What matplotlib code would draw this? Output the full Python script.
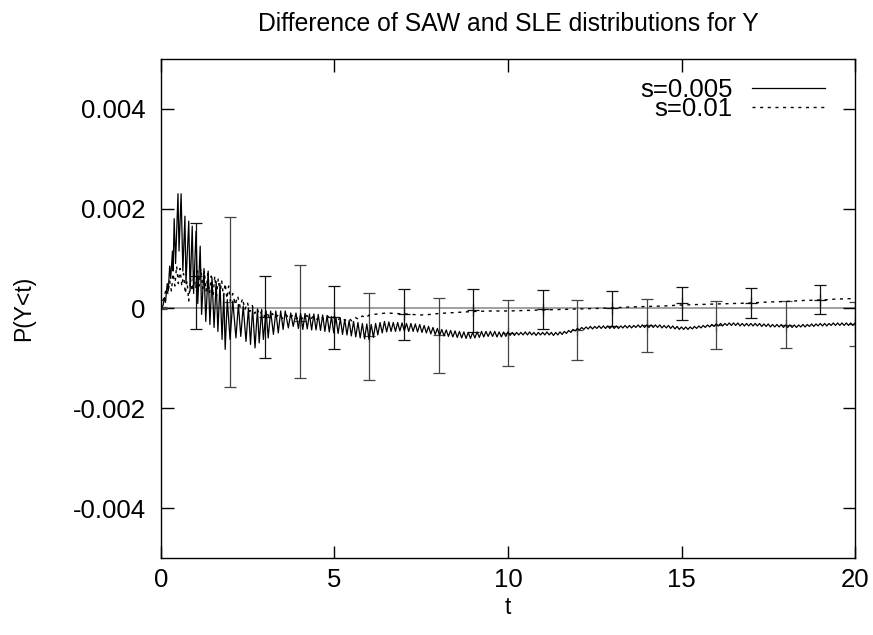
import matplotlib
matplotlib.use("Agg")
import matplotlib.pyplot as plt
import numpy as np

plt.rcParams['font.family'] = ['Liberation Sans', 'DejaVu Sans']
plt.rcParams['font.size'] = 18.5

SCALE = 1e-4  # all values below are in units of 1e-4

# s=0.005, strongly oscillating start: (t, value) vertices
s005_head_t = [0.00, 0.06, 0.10, 0.13, 0.18, 0.21, 0.25, 0.28, 0.33, 0.35,
               0.38, 0.42, 0.49, 0.52, 0.58, 0.63, 0.69, 0.72, 0.80, 0.84,
               0.90, 0.94, 1.01, 1.06, 1.13, 1.17, 1.24, 1.29, 1.36, 1.41,
               1.47, 1.53, 1.59, 1.64, 1.70, 1.76, 1.81, 1.85, 1.91, 1.99,
               2.07, 2.16, 2.23, 2.30, 2.37, 2.45, 2.52, 2.58, 2.64, 2.71,
               2.78, 2.83, 2.90, 2.95, 3.03, 3.09, 3.16, 3.24, 3.31, 3.38,
               3.45, 3.52, 3.58, 3.67, 3.74, 3.81, 3.89]
s005_head_v = [0.0, 0.6, 2.2, 1.2, 5.0, 3.5, 8.5, 6.0, 11.5, 7.5,
               18.0, 9.0, 23.0, 11.5, 23.0, 7.5, 18.5, 5.0, 17.5, 3.5,
               16.5, 3.0, 15.5, 1.0, 12.5, -1.2, 8.0, -2.6, 7.5, -3.2,
               6.2, -3.8, 5.4, -4.6, 5.0, -6.2, 3.0, -8.2, 1.8, -6.2,
               1.5, -5.9, 0.8, -5.6, 0.5, -6.6, 0.1, -7.2, 0.1, -7.9,
               -0.1, -6.9, -0.2, -6.2, -0.5, -5.9, -0.5, -5.2, -0.5, -4.9,
               -0.5, -4.2, -0.5, -3.9, -0.9, -3.6, -0.9]

# s=0.005 zigzag, t 3.96 .. 10.0 (trough, peak pairs)
s005_mid_v = [-4.0, -1.0, -4.2, -1.0, -4.1, -1.1, -4.3, -1.1,
              -4.3, -1.2, -4.4, -1.3, -4.6, -1.4, -4.7, -1.6,
              -4.9, -1.8, -5.0, -2.0, -5.2, -2.2, -5.3, -2.4,
              -5.5, -2.6, -5.7, -2.8, -5.9, -3.0, -6.1, -3.1, -6.2, -3.2,
              -5.8, -3.0, -5.3, -2.8, -4.9, -2.6,
              -4.7, -2.7, -4.6, -2.8, -4.6, -2.8, -4.5, -2.9,
              -4.5, -3.0, -4.6, -3.0, -4.6, -3.1, -4.7, -3.2,
              -4.8, -3.4, -4.9, -3.6, -5.1, -3.8, -5.2, -4.0,
              -5.4, -4.2, -5.5, -4.3, -5.6, -4.4, -5.7, -4.5,
              -5.8, -4.6, -5.9, -4.7, -6.0, -4.8, -6.0, -4.8,
              -5.9, -4.7, -5.8, -4.6, -5.7, -4.6, -5.6, -4.6,
              -5.6, -4.6, -5.7, -4.7, -5.7, -4.7, -5.6, -4.7]

# s=0.005 small ripple, t 10.06 .. 20.0 (trough, peak pairs)
s005_tail_v = [-5.4, -4.8, -5.4, -4.8, -5.3, -4.8, -5.3, -4.7, -5.3, -4.7, -5.3, -4.8, -5.4, -4.8, -5.3, -4.8,
               -5.3, -4.7, -5.3, -4.8, -5.4, -4.8, -5.3, -4.7, -5.2, -4.6, -5.0, -4.4, -4.8, -4.2, -4.5, -4.0,
               -4.3, -3.8, -4.2, -3.7, -4.1, -3.6, -4.1, -3.6, -4.0, -3.5, -4.0, -3.5, -4.0, -3.5, -4.0, -3.5,
               -4.0, -3.5, -4.0, -3.5, -3.9, -3.4, -3.9, -3.4, -3.9, -3.4, -3.8, -3.3, -3.8, -3.3, -3.8, -3.3,
               -3.8, -3.3, -3.8, -3.3, -3.8, -3.3, -3.9, -3.4, -3.9, -3.4, -4.0, -3.5, -4.1, -3.6, -4.2, -3.7,
               -4.2, -3.7, -4.2, -3.7, -4.1, -3.6, -4.0, -3.5, -3.9, -3.4, -3.8, -3.3, -3.7, -3.2, -3.6, -3.1,
               -3.5, -3.0, -3.5, -3.0, -3.4, -2.9, -3.4, -2.9, -3.4, -2.9, -3.5, -3.0, -3.5, -3.0, -3.5, -3.0,
               -3.5, -3.0, -3.5, -3.0, -3.6, -3.1, -3.6, -3.1, -3.7, -3.2, -3.7, -3.2, -3.7, -3.2, -3.8, -3.3,
               -3.8, -3.3, -3.8, -3.3, -3.8, -3.3, -3.7, -3.2, -3.7, -3.2, -3.6, -3.1, -3.6, -3.1, -3.5, -3.0,
               -3.5, -3.0, -3.5, -3.0, -3.4, -2.9, -3.4, -2.9, -3.4, -2.9, -3.4, -2.9, -3.4, -2.9, -3.4, -2.9]

# s=0.01 (t, value)
s01_t = [0.00, 0.05, 0.10, 0.15, 0.20, 0.25, 0.30, 0.35, 0.40, 0.45,
         0.50, 0.55, 0.60, 0.65, 0.70, 0.75, 0.80, 0.85, 0.90, 0.95,
         1.00, 1.05, 1.10, 1.15, 1.20, 1.25, 1.30, 1.35, 1.40, 1.45,
         1.50, 1.55, 1.60, 1.65, 1.70, 1.75, 1.80, 1.85, 1.90, 1.95,
         2.00, 2.07, 2.14, 2.21, 2.28, 2.35, 2.42, 2.49, 2.56, 2.63,
         2.70, 2.77, 2.84, 2.91, 2.98, 3.05, 3.12, 3.20, 3.30, 3.40,
         3.50, 3.60, 3.70, 3.80, 3.90, 4.00, 4.10, 4.20, 4.30, 4.40,
         4.50, 4.60, 4.70, 4.80, 4.90, 5.00, 5.10, 5.20, 5.30, 5.40,
         5.50, 5.60, 5.70, 5.80, 5.90, 6.00, 6.25, 6.50, 6.75, 7.00,
         7.25, 7.50, 7.75, 8.00, 8.50, 9.00, 9.50, 10.0, 10.5, 11.0,
         11.5, 12.0, 12.5, 13.0, 13.5, 14.0, 14.5, 15.0, 15.5, 16.0,
         16.5, 17.0, 17.5, 18.0, 18.5, 19.0, 19.5, 20.0]
s01_v = [0.0, 1.5, 2.5, 4.0, 3.0, 5.5, 3.5, 7.0, 4.5, 8.5,
         5.0, 8.0, 4.5, 7.0, 3.0, 5.5, 1.5, 6.0, 3.5, 7.0,
         4.0, 7.5, 4.5, 8.0, 4.0, 7.5, 3.5, 7.0, 3.0, 6.5,
         2.5, 6.5, 2.5, 6.0, 3.0, 5.5, 2.5, 5.0, 2.0, 4.5,
         1.5, 3.0, 0.8, 2.5, 0.3, 2.0, -0.2, 1.2, -0.6, 0.6,
         -1.0, 0.0, -1.3, -0.5, -1.6, -0.8, -1.8, -1.0, -1.9, -1.1,
         -2.0, -1.2, -2.1, -1.3, -2.1, -1.4, -2.2, -1.4, -2.2, -1.5,
         -2.2, -1.5, -2.2, -1.5, -2.2, -1.6, -2.3, -1.7, -2.4, -1.9,
         -2.5, -1.8, -2.2, -1.5, -1.9, -1.3, -1.1, -0.9, -1.0, -1.1,
         -1.2, -1.3, -1.2, -1.0, -0.8, -0.6, -0.5, -0.5, -0.4, -0.3,
         -0.2, -0.1, 0.0, 0.1, 0.3, 0.4, 0.5, 0.7, 0.8, 0.9,
         1.0, 1.1, 1.3, 1.4, 1.6, 1.7, 1.9, 2.0]

# error bars: s=0.005 at even t, s=0.01 at odd t
err_even_t = [0, 2, 4, 6, 8, 10, 12, 14, 16, 18, 20]
err_even_c = [0.0, 1.3, -2.6, -5.55, -5.35, -4.95, -4.25, -3.4, -3.4, -3.3, -3.2]
err_even_e = [0.2, 17.0, 11.3, 8.75, 7.55, 6.55, 6.05, 5.4, 4.8, 4.7, 4.4]
err_odd_t = [1, 3, 5, 7, 9, 11, 13, 15, 17, 19]
err_odd_c = [6.5, -1.65, -1.8, -1.2, -0.4, -0.2, 0.0, 1.0, 1.1, 1.8]
err_odd_e = [10.6, 8.25, 6.4, 5.2, 4.4, 4.0, 3.6, 3.4, 3.1, 3.0]

s005_t = np.concatenate([s005_head_t,
                         np.linspace(3.96, 10.0, len(s005_mid_v)),
                         np.linspace(10.06, 20.0, len(s005_tail_v))])
s005_v = np.concatenate([s005_head_v, s005_mid_v, s005_tail_v]) * SCALE

fig = plt.figure(figsize=(8.73, 6.35), dpi=100)
ax = fig.add_axes([0.1844, 0.1213, 0.795, 0.7858])

ax.axhline(0, color='#909090', lw=1.2, zorder=1)
ax.plot(s005_t, s005_v, color='black', lw=0.9, label='s=0.005', zorder=3)
ax.plot(s01_t, np.array(s01_v) * SCALE, color='black', lw=1.0,
        linestyle=(0, (2.2, 3.3)), label='s=0.01', zorder=3)

ax.errorbar(err_even_t, np.array(err_even_c) * SCALE, yerr=np.array(err_even_e) * SCALE,
            fmt='+', color='#444444', ms=9, mew=0.9, elinewidth=0.9, capsize=4.3,
            capthick=0.9, zorder=2)
ax.errorbar(err_odd_t, np.array(err_odd_c) * SCALE, yerr=np.array(err_odd_e) * SCALE,
            fmt='+', color='#111111', ms=9, mew=0.9, elinewidth=0.9, capsize=4.3,
            capthick=0.9, zorder=2)

ax.set_xlim(0, 20)
ax.set_ylim(-0.005, 0.005)
ax.set_xticks([0, 5, 10, 15, 20])
ax.set_yticks([-0.004, -0.002, 0, 0.002, 0.004])
ax.set_yticklabels(['-0.004', '-0.002', '0', '0.002', '0.004'])
ax.tick_params(direction='in', length=9, width=1, top=True, right=True)
ax.tick_params(axis='x', pad=7)
ax.tick_params(axis='y', pad=11)
for sp in ax.spines.values():
    sp.set_linewidth(1.0)

ax.set_title('Difference of SAW and SLE distributions for Y', fontsize=17.8, pad=20.5)
ax.set_xlabel('t', fontsize=16.5, labelpad=3)
ax.set_ylabel('P(Y<t)', fontsize=16.5, labelpad=27)

leg = ax.legend(loc='upper right', bbox_to_anchor=(0.957, 0.962), frameon=False,
                markerfirst=False, handlelength=2.85, handletextpad=0.75,
                borderpad=0, borderaxespad=0, labelspacing=-0.18)
for col in leg._legend_handle_box.get_children():
    col.align = 'right'

fig.savefig('out.png', dpi=100)
